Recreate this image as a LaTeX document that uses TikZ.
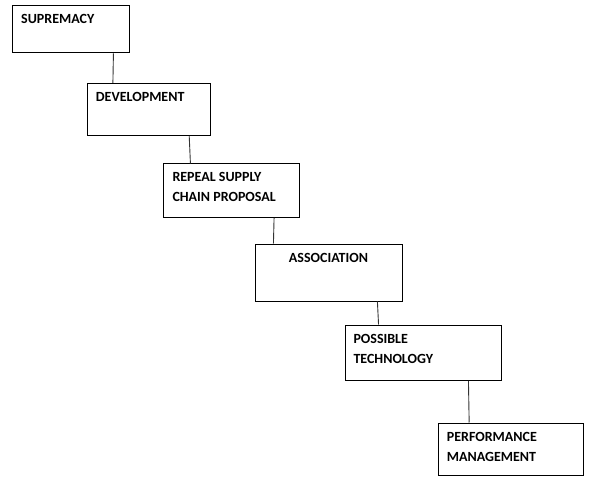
\documentclass[tikz,border=0pt]{standalone}
\usepackage{fontspec}
\setmainfont{Carlito}
\usetikzlibrary{calc}

\begin{document}
\begin{tikzpicture}[
  x=1pt,y=-1pt,
  stage/.style={draw,line width=0.9pt,anchor=north west,inner sep=0pt},
  stagetext/.style={inner sep=0pt,align=left,font=\bfseries\fontsize{14}{20}\selectfont},
  link/.style={line width=0.9pt,black!80}
]
  \useasboundingbox (0,0) rectangle (590,487);

  % the six stages, stepping down to the right
  \node[stage,minimum width=116.5pt,minimum height=47.5pt,
    label={[stagetext,anchor=north west,xshift=9pt,yshift=-9.6pt]north west:SUPREMACY}]
    (supremacy) at (12,5) {};
  \node[stage,minimum width=123pt,minimum height=52pt,
    label={[stagetext,anchor=north west,xshift=9.2pt,yshift=-9.2pt]north west:DEVELOPMENT}]
    (development) at (86.5,83) {};
  \node[stage,minimum width=136pt,minimum height=53.5pt,
    label={[stagetext,anchor=north west,xshift=9.8pt,yshift=-8.6pt]north west:REPEAL SUPPLY\\CHAIN PROPOSAL}]
    (repeal) at (162.5,163.5) {};
  \node[stage,minimum width=147pt,minimum height=57pt,
    label={[stagetext,anchor=north,yshift=-9.6pt]north:ASSOCIATION}]
    (association) at (254.5,243.5) {};
  \node[stage,minimum width=156pt,minimum height=55.5pt,
    label={[stagetext,anchor=north west,xshift=8.8pt,yshift=-9.5pt]north west:POSSIBLE\\TECHNOLOGY}]
    (technology) at (344.5,324.5) {};
  \node[stage,minimum width=145pt,minimum height=52.5pt,
    label={[stagetext,anchor=north west,xshift=9.2pt,yshift=-9.2pt]north west:PERFORMANCE\\MANAGEMENT}]
    (performance) at (437.5,422.5) {};

  % links between stages
  \foreach \from/\ffrom/\to/\fto in {supremacy/0.864/development/0.213,
      development/0.829/repeal/0.204, repeal/0.815/association/0.128,
      association/0.831/technology/0.217, technology/0.790/performance/0.217}
    \draw[link] ($(\from.south west)!\ffrom!(\from.south east)$) --
      ($(\to.north west)!\fto!(\to.north east)$);
\end{tikzpicture}
\end{document}
